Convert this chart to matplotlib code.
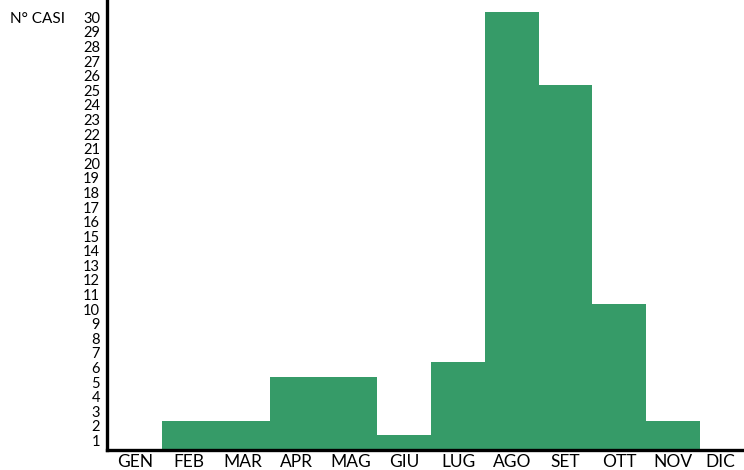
import matplotlib
matplotlib.use('Agg')
import matplotlib.pyplot as plt
import matplotlib.transforms as mtransforms
import numpy as np

# Monthly case counts
months = ['GEN', 'FEB', 'MAR', 'APR', 'MAG', 'GIU', 'LUG', 'AGO', 'SET', 'OTT', 'NOV', 'DIC']
cases = [0, 2, 2, 5, 5, 1, 6, 30, 25, 10, 2, 0]
y_ticks = list(range(1, 31))

plt.rcParams['font.family'] = ['Lato', 'DejaVu Sans']

fig = plt.figure(figsize=(7.44, 4.70), dpi=100)
W, H = 744, 470
ax = fig.add_axes([107 / W, 20 / H, (744 - 107) / W, 450 / H])

x = np.arange(len(months))
ax.bar(x, cases, width=1.0, align='edge', color='#369b68', linewidth=0)

ax.set_xlim(-0.03, 11.82)
ax.set_ylim(0, 30.85)

ax.set_xticks(x + 0.5)
ax.set_xticklabels(months, fontsize=12.5)
ax.set_yticks(y_ticks)
ax.set_yticklabels([str(v) for v in y_ticks], fontsize=10.5)
ax.tick_params(axis='both', length=0)
ax.tick_params(axis='x', pad=3)
ax.tick_params(axis='y', pad=5)

# labels sit a little below their value in the original
shift = mtransforms.ScaledTranslation(0, -5 / 100, fig.dpi_scale_trans)
for lbl in ax.get_yticklabels():
    lbl.set_transform(lbl.get_transform() + shift)

# last month label is pulled in so it stays inside the picture
last = ax.get_xticklabels()[-1]
last.set_transform(last.get_transform() +
                   mtransforms.ScaledTranslation(-6 / 100, 0, fig.dpi_scale_trans))

for side in ['top', 'right']:
    ax.spines[side].set_visible(False)
for side in ['left', 'bottom']:
    ax.spines[side].set_linewidth(2.4)
    ax.spines[side].set_color('black')

fig.text(10 / W, 1 - 19 / H, 'N° CASI', fontsize=11, va='center', ha='left')

fig.savefig('out.png', dpi=100)
